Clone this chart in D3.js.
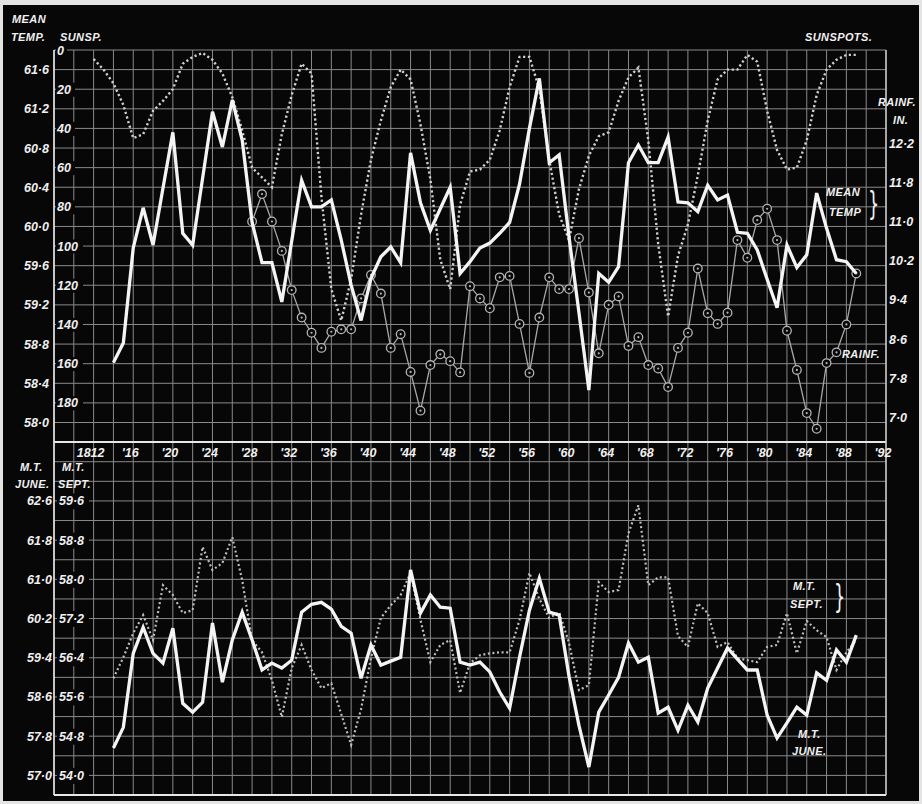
<!DOCTYPE html>
<html>
<head>
<meta charset="utf-8">
<script src="https://cdn.jsdelivr.net/npm/d3@7"></script>
<style>
  body { margin: 0; background: #e4e4e4; }
  svg text { font-family: "Liberation Sans", Arial, sans-serif; font-style: italic; font-weight: bold; fill: #f0f0f0; }
</style>
</head>
<body>
<div id="chart"></div>
<script>
// years shared by the annual series
const tempYears = d3.range(1814, 1890)
const sunspotYears = d3.range(1812, 1890)
const rainYears = d3.range(1828, 1890)

// mean annual temperature (top panel, solid white)
const meanTemp = [58.61, 58.81, 59.78, 60.19, 59.81, 60.39, 60.96, 59.93, 59.81, 60.49,
  61.17, 60.81, 61.29, 60.88, 60.04, 59.63, 59.63, 59.23, 59.85, 60.47,
  60.20, 60.20, 60.27, 59.86, 59.40, 59.04, 59.47, 59.69, 59.79, 59.63,
  60.75, 60.24, 59.96, 60.18, 60.40, 59.52, 59.64, 59.78, 59.83, 59.93,
  60.04, 60.43, 61.00, 61.51, 60.65, 60.73, 59.89, 59.12, 58.33, 59.52,
  59.43, 59.59, 60.65, 60.83, 60.65, 60.65, 60.91, 60.25, 60.24, 60.15,
  60.42, 60.27, 60.32, 59.94, 59.93, 59.76, 59.46, 59.17, 59.81, 59.58,
  59.71, 60.34, 59.98, 59.66, 59.64, 59.52]

// sunspot numbers (top panel, dotted, scale inverted)
const sunspots = [4.6, 10, 17, 28, 45, 43, 31, 26, 20, 7,
  3.5, 1.5, 5, 12, 24, 41, 60, 65, 70, 43,
  23, 7, 12, 75, 122, 138, 117, 84, 56, 36,
  19, 10, 15, 38, 66, 107, 122, 79, 62, 61,
  56, 41, 19, 3.5, 3.5, 20, 56, 84, 97, 71,
  54, 44, 42, 26, 14, 9, 46, 99, 136, 105,
  89, 64, 36, 15, 10, 10, 2.5, 6, 31, 51,
  61, 60, 46, 23, 10, 5, 2.5, 2.5]

// rainfall, inches (top panel, thin line with rings)
const rainfall = [11.0, 11.56, 11.0, 10.40, 9.60, 9.04, 8.73, 8.42, 8.75, 8.80,
  8.80, 9.43, 9.91, 9.53, 8.42, 8.70, 7.93, 7.14, 8.07, 8.29,
  8.15, 7.92, 9.68, 9.43, 9.23, 9.86, 9.89, 8.91, 7.91, 9.04,
  9.86, 9.62, 9.62, 10.66, 9.55, 8.31, 9.30, 9.47, 8.46, 8.64,
  8.07, 8.00, 7.62, 8.42, 8.73, 10.04, 9.13, 8.91, 9.14, 10.62,
  10.26, 11.03, 11.26, 10.62, 8.77, 7.97, 7.09, 6.77, 8.11, 8.33,
  8.90, 9.94]

// mean temperature of June (bottom panel, solid)
const juneTemp = [57.56, 57.98, 59.49, 60.02, 59.49, 59.29, 60.00, 58.47, 58.29, 58.49,
  60.11, 58.90, 59.76, 60.33, 59.76, 59.15, 59.29, 59.19, 59.35, 60.33,
  60.49, 60.53, 60.39, 60.04, 59.90, 58.98, 59.66, 59.25, 59.33, 59.41,
  61.19, 60.31, 60.68, 60.43, 60.41, 59.31, 59.25, 59.31, 59.11, 58.70,
  58.37, 59.41, 60.37, 61.02, 60.33, 60.27, 59.02, 58.02, 57.17, 58.29,
  58.64, 59.00, 59.70, 59.31, 59.41, 58.27, 58.39, 57.92, 58.43, 58.09,
  58.78, 59.19, 59.60, 59.37, 59.15, 59.15, 58.23, 57.76, 58.07, 58.39,
  58.23, 59.09, 58.94, 59.56, 59.31, 59.86]

// mean temperature of September (bottom panel, dotted)
const septTemp = [55.98, 56.41, 56.90, 57.27, 56.76, 57.88, 57.68, 57.31, 57.37, 58.66,
  58.19, 58.33, 58.86, 57.98, 56.76, 56.51, 55.94, 55.19, 56.19, 56.66,
  56.15, 55.78, 55.88, 55.25, 54.62, 55.35, 56.39, 57.21, 57.47, 57.68,
  58.13, 57.17, 56.31, 56.66, 56.76, 55.68, 56.29, 56.45, 56.49, 56.51,
  56.51, 57.17, 58.13, 57.60, 57.21, 57.33, 56.70, 55.74, 55.84, 57.94,
  57.74, 57.78, 58.94, 59.51, 57.88, 58.04, 58.04, 56.84, 56.62, 57.51,
  57.31, 56.62, 56.72, 56.39, 56.35, 56.31, 56.62, 56.66, 57.31, 56.49,
  57.15, 56.96, 56.82, 56.15, 56.51, 56.76]

// tick labels
const yearTicks = d3.range(1812, 1893, 4)
const yearTickLabels = yearTicks.map(y => y === 1812 ? '1812' : "'" + String(y).slice(2))
const tempTicks = [61.6, 61.2, 60.8, 60.4, 60.0, 59.6, 59.2, 58.8, 58.4, 58.0]
const sunTicks = [0, 20, 40, 60, 80, 100, 120, 140, 160, 180]
const rainTicks = [12.6, 11.8, 11.0, 10.2, 9.4, 8.6, 7.8, 7.0]
const rainTickLabels = ['12·2', '11·8', '11·0', '10·2', '9·4', '8·6', '7·8', '7·0']
const juneTicks = [62.6, 61.8, 61.0, 60.2, 59.4, 58.6, 57.8, 57.0]
const septTicks = [59.6, 58.8, 58.0, 57.2, 56.4, 55.6, 54.8, 54.0]

const width = 922
const height = 804
const plotTop = 50
const plotMid = 442
const plotBottom = 795
const plotLeft = 54
const plotRight = 886

const svg = d3.select('#chart').append('svg')
  .attr('width', width)
  .attr('height', height)

svg.append('rect').attr('width', width).attr('height', height).attr('fill', '#e4e4e4')
svg.append('rect')
  .attr('x', 3).attr('y', 5)
  .attr('width', 916).attr('height', 796)
  .attr('fill', '#070707')

const fmt = d => d.toFixed(1).replace('.', '·')

// scales
const x = d3.scaleLinear().domain([1808, 1892]).range([plotLeft, plotRight])
const yTemp = d3.scaleLinear().domain([57.8, 61.8]).range([plotMid, plotTop])
const ySun = d3.scaleLinear().domain([0, 200]).range([plotTop, plotMid])
const yRain = d3.scaleLinear().domain([6.5, 14.5]).range([plotMid, plotTop])
const yJune = d3.scaleLinear().domain([56.6, 63.8]).range([plotBottom, plotMid])
const ySept = d3.scaleLinear().domain([53.6, 60.8]).range([plotBottom, plotMid])

// grid
const grid = svg.append('g').attr('stroke', '#8a8a8a').attr('stroke-width', 1)
const rows = d3.range(39).map(i => plotTop + i * (plotBottom - plotTop) / 38)
grid.selectAll('line.h').data(rows).enter().append('line')
  .attr('x1', plotLeft).attr('x2', plotRight)
  .attr('y1', d => d).attr('y2', d => d)
grid.selectAll('line.v').data(d3.range(1808, 1893, 2)).enter().append('line')
  .attr('x1', d => x(d)).attr('x2', d => x(d))
  .attr('y1', plotTop).attr('y2', plotBottom)

// frame
const frame = svg.append('g').attr('stroke', '#e8e8e8')
frame.append('line').attr('x1', plotLeft).attr('x2', plotLeft).attr('y1', plotTop).attr('y2', plotBottom).attr('stroke-width', 1.6)
frame.append('line').attr('x1', plotLeft).attr('x2', plotRight).attr('y1', plotMid).attr('y2', plotMid).attr('stroke-width', 2)
frame.append('line').attr('x1', plotLeft).attr('x2', plotRight).attr('y1', plotBottom).attr('y2', plotBottom).attr('stroke-width', 2)
frame.append('line').attr('x1', plotRight).attr('x2', plotRight).attr('y1', plotTop).attr('y2', plotBottom).attr('stroke-width', 1.4).attr('stroke', '#cfcfcf')

// ---- top panel ----
const sunLine = d3.line().x((d, i) => x(sunspotYears[i])).y(d => ySun(d))
svg.append('path')
  .datum(sunspots)
  .attr('d', sunLine)
  .attr('fill', 'none')
  .attr('stroke', '#cfcfcf')
  .attr('stroke-width', 2.4)
  .attr('stroke-dasharray', '2.2,2.6')

const rainLine = d3.line().x((d, i) => x(rainYears[i])).y(d => yRain(d))
svg.append('path')
  .datum(rainfall)
  .attr('d', rainLine)
  .attr('fill', 'none')
  .attr('stroke', '#a8a8a8')
  .attr('stroke-width', 1.3)

const rings = svg.append('g').selectAll('g').data(rainfall).enter().append('g')
  .attr('transform', (d, i) => 'translate(' + x(rainYears[i]) + ',' + yRain(d) + ')')
rings.append('circle').attr('r', 4.3).attr('fill', '#070707').attr('stroke', '#b4b4b4').attr('stroke-width', 1.3)
rings.append('circle').attr('r', 1.1).attr('fill', '#b4b4b4')

const tempLine = d3.line().x((d, i) => x(tempYears[i])).y(d => yTemp(d))
svg.append('path')
  .datum(meanTemp)
  .attr('d', tempLine)
  .attr('fill', 'none')
  .attr('stroke', '#f4f4f4')
  .attr('stroke-width', 3.3)
  .attr('stroke-linejoin', 'miter')

// ---- bottom panel ----
const septLine = d3.line().x((d, i) => x(tempYears[i])).y(d => ySept(d))
svg.append('path')
  .datum(septTemp)
  .attr('d', septLine)
  .attr('fill', 'none')
  .attr('stroke', '#bdbdbd')
  .attr('stroke-width', 2.2)
  .attr('stroke-dasharray', '2,2.6')

const juneLine = d3.line().x((d, i) => x(tempYears[i])).y(d => yJune(d))
svg.append('path')
  .datum(juneTemp)
  .attr('d', juneLine)
  .attr('fill', 'none')
  .attr('stroke', '#f4f4f4')
  .attr('stroke-width', 3.3)

// ---- axes ----
function styleAxis(g, size) {
  g.select('.domain').remove()
  g.selectAll('text')
    .attr('fill', '#f0f0f0')
    .style('font-size', size + 'px')
}

svg.append('g')
  .attr('transform', 'translate(49,0)')
  .call(d3.axisLeft(yTemp).tickValues(tempTicks).tickSize(0).tickPadding(0).tickFormat(fmt))
  .call(styleAxis, 12.5)

// sunspot labels sit inside the grid with a black patch behind
const sunAxis = svg.append('g')
  .attr('transform', 'translate(57,0)')
  .call(d3.axisRight(ySun).tickValues(sunTicks).tickSize(0).tickPadding(0))
sunAxis.select('.domain').remove()
sunAxis.selectAll('.tick').insert('rect', 'text')
  .attr('x', -1).attr('y', -7)
  .attr('width', d => String(d).length * 8 + 3).attr('height', 14)
  .attr('fill', '#070707')
sunAxis.selectAll('text').attr('fill', '#f0f0f0').style('font-size', '12.5px')

svg.append('g')
  .attr('transform', 'translate(889,0)')
  .call(d3.axisRight(yRain).tickValues(rainTicks).tickSize(0).tickPadding(0)
    .tickFormat((d, i) => rainTickLabels[i]))
  .call(styleAxis, 12.5)

svg.append('g')
  .attr('transform', 'translate(52,0)')
  .call(d3.axisLeft(yJune).tickValues(juneTicks).tickSize(0).tickPadding(0).tickFormat(fmt))
  .call(styleAxis, 12.5)

const septAxis = svg.append('g')
  .attr('transform', 'translate(59,0)')
  .call(d3.axisRight(ySept).tickValues(septTicks).tickSize(0).tickPadding(0).tickFormat(fmt))
septAxis.select('.domain').remove()
septAxis.selectAll('.tick').insert('rect', 'text')
  .attr('x', -2).attr('y', -8).attr('width', 32).attr('height', 16)
  .attr('fill', '#070707')
septAxis.selectAll('text').attr('fill', '#f0f0f0').style('font-size', '12.5px')

// year labels between the panels
svg.append('g')
  .selectAll('text')
  .data(yearTicks)
  .enter()
  .append('text')
  .attr('x', d => x(d) - 3)
  .attr('y', 457)
  .attr('text-anchor', 'middle')
  .style('font-size', '12.5px')
  .text((d, i) => yearTickLabels[i])

// ---- titles and legends ----
const labels = [
  { t: 'MEAN', x: 12, y: 23 },
  { t: 'TEMP.', x: 11, y: 41 },
  { t: 'SUNSP.', x: 60, y: 41 },
  { t: 'SUNSPOTS.', x: 805, y: 41 },
  { t: 'RAINF.', x: 878, y: 106 },
  { t: 'IN.', x: 893, y: 124 },
  { t: 'MEAN', x: 826, y: 196 },
  { t: 'TEMP', x: 829, y: 216 },
  { t: 'RAINF.', x: 842, y: 358 },
  { t: 'M.T.', x: 20, y: 471 },
  { t: 'JUNE.', x: 15, y: 488 },
  { t: 'M.T.', x: 62, y: 471 },
  { t: 'SEPT.', x: 58, y: 488 },
  { t: 'M.T.', x: 793, y: 590 },
  { t: 'SEPT.', x: 790, y: 608 },
  { t: 'M.T.', x: 798, y: 738 },
  { t: 'JUNE.', x: 792, y: 755 }
]
svg.append('g')
  .selectAll('text')
  .data(labels)
  .enter()
  .append('text')
  .attr('x', d => d.x)
  .attr('y', d => d.y)
  .style('font-size', '11px')
  .style('letter-spacing', '0.4px')
  .text(d => d.t)

// braces
const braces = [{ x: 868, y: 214 }, { x: 834, y: 607 }]
svg.append('g')
  .selectAll('text')
  .data(braces)
  .enter()
  .append('text')
  .attr('transform', d => 'translate(' + d.x + ',' + d.y + ') scale(0.55,1)')
  .style('font-size', '32px')
  .style('font-weight', 'normal')
  .style('font-style', 'normal')
  .style('font-family', 'DejaVu Sans')
  .text('}')
</script>
</body>
</html>
